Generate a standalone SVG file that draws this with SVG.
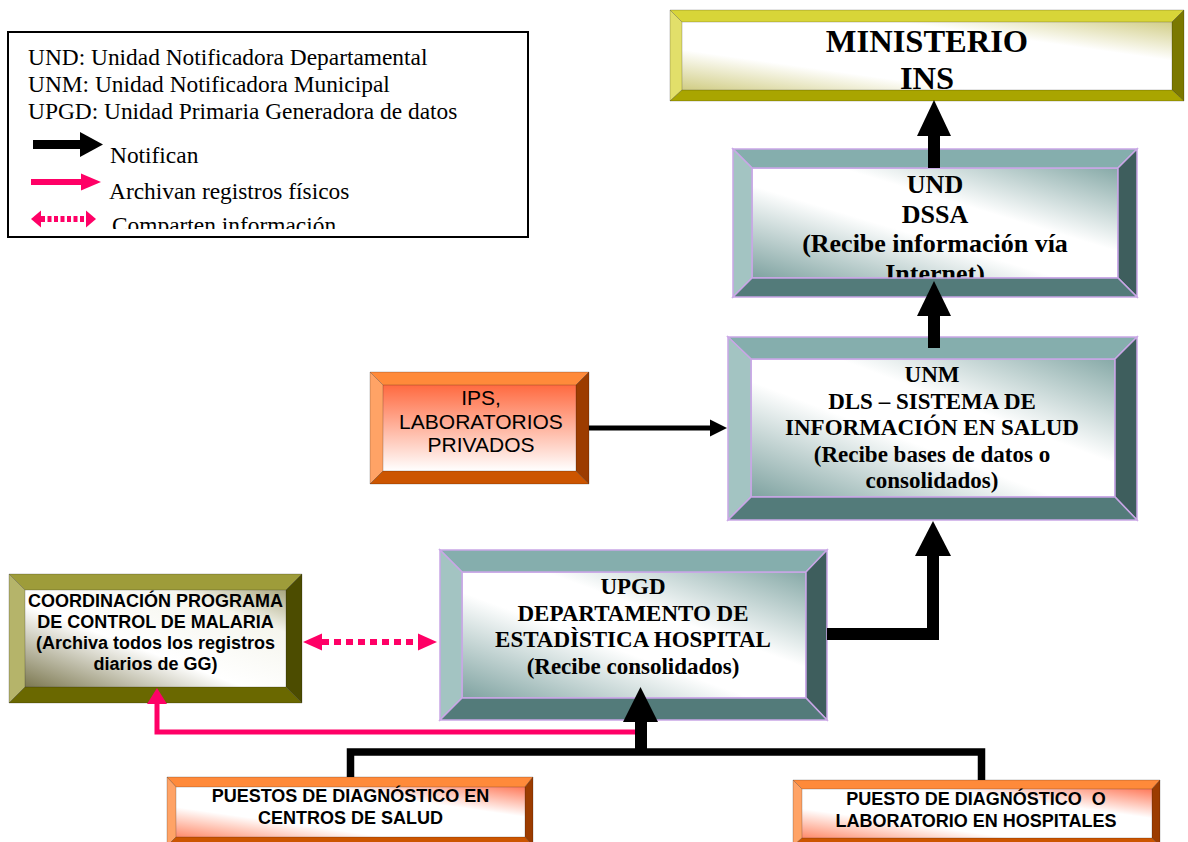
<svg xmlns="http://www.w3.org/2000/svg" width="1188" height="842" viewBox="0 0 1188 842">
<defs>
<style>
.serif{font-family:"Liberation Serif","Times New Roman",serif;}
.sans{font-family:"Liberation Sans",Arial,sans-serif;}
.bold{font-weight:bold;}
.tealT{fill:#85aead}.tealL{fill:#a3c4c2}.tealR{fill:#3e5e5d}.tealB{fill:#537b7a}
.yelT{fill:#d8d538}.yelL{fill:#e2df6a}.yelR{fill:#7b7800}.yelB{fill:#a9a500}
.orT{fill:#ff8a3a}.orL{fill:#ffa366}.orR{fill:#9c3c00}.orB{fill:#cc5500}
.olT{fill:#9e9c3a}.olL{fill:#b5b46a}.olR{fill:#4c4c00}.olB{fill:#6a6800}
.bev polygon{stroke:#000;stroke-width:0.6;stroke-opacity:0.35}
.tealbox polygon,.tealbox rect{stroke:#c9a6e6;stroke-width:1.5}
.blk{fill:#000}
.pink{fill:#ff0066}
.pinkline{fill:none;stroke:#ff0066;stroke-width:5}
.pinkdot{fill:none;stroke:#ff0066;stroke-width:6;stroke-dasharray:7 5}
</style>
<linearGradient id="gTeal" x1="0" y1="1" x2="1" y2="0">
<stop offset="0" stop-color="#7ea2a0"/><stop offset="0.42" stop-color="#ffffff"/><stop offset="0.62" stop-color="#ffffff"/><stop offset="1" stop-color="#86a9a7"/>
</linearGradient>
<linearGradient id="gYel" x1="0" y1="1" x2="1" y2="0">
<stop offset="0" stop-color="#cfcb80"/><stop offset="0.3" stop-color="#ffffff"/><stop offset="0.72" stop-color="#ffffff"/><stop offset="1" stop-color="#d2ce88"/>
</linearGradient>
<linearGradient id="gOrV" x1="0" y1="0" x2="0" y2="1">
<stop offset="0" stop-color="#ff6a40"/><stop offset="1" stop-color="#ffffff"/>
</linearGradient>
<linearGradient id="gOrD" x1="0" y1="1" x2="1" y2="0">
<stop offset="0" stop-color="#ff8a6a"/><stop offset="0.3" stop-color="#ffffff"/><stop offset="0.7" stop-color="#ffffff"/><stop offset="1" stop-color="#ff7a5a"/>
</linearGradient>
<linearGradient id="gOl" x1="0" y1="1" x2="1" y2="0">
<stop offset="0" stop-color="#7c7850"/><stop offset="0.42" stop-color="#ffffff"/><stop offset="0.78" stop-color="#f6f6ee"/><stop offset="1" stop-color="#a8a67e"/>
</linearGradient>
<clipPath id="legClip"><rect x="9" y="33" width="518" height="196"/></clipPath>
</defs>
<rect width="1188" height="842" fill="#ffffff"/>

<g id="legend">
<rect x="8" y="32" width="520" height="205" fill="#fff" stroke="#000" stroke-width="2"/>
<g clip-path="url(#legClip)" class="serif" font-size="23.4" fill="#000">
<text x="28" y="65">UND: Unidad Notificadora Departamental</text>
<text x="28" y="92">UNM: Unidad Notificadora Municipal</text>
<text x="28" y="119">UPGD: Unidad Primaria Generadora de datos</text>
<text x="110" y="163">Notifican</text>
<text x="109" y="199">Archivan registros físicos</text>
<text x="112" y="233">Comparten información</text>
</g>
<rect class="blk" x="33" y="140" width="48" height="9"/>
<polygon class="blk" points="80,132 103,144.5 80,157"/>
<line x1="31" y1="182" x2="83" y2="182" stroke="#ff0066" stroke-width="6"/>
<polygon class="pink" points="81,173.5 101,182 81,190.5"/>
<line x1="41" y1="219" x2="86" y2="219" stroke="#ff0066" stroke-width="6" stroke-dasharray="4 2.5"/>
<polygon class="pink" points="31,219 41,210.5 41,227.5"/>
<polygon class="pink" points="96,219 86,210.5 86,227.5"/>
</g>

<g id="ministerio" class="bev">
<rect x="682" y="22" width="490" height="69" fill="url(#gYel)"/>
<polygon class="yelT" points="670,10 1184,10 1172,22 682,22"/>
<polygon class="yelL" points="670,10 682,22 682,90 670,101"/>
<polygon class="yelR" points="1184,10 1184,101 1172,90 1172,22"/>
<polygon class="yelB" points="670,101 682,90 1172,90 1184,101"/>
<text class="serif bold" font-size="32.5" text-anchor="middle" x="927" y="52">MINISTERIO</text>
<text class="serif bold" font-size="32.5" text-anchor="middle" x="927" y="89">INS</text>
</g>

<g id="und" class="tealbox">
<rect x="752" y="168" width="366" height="110" fill="url(#gTeal)"/>
<text class="serif bold" font-size="26" text-anchor="middle" x="935" y="193" stroke="none">UND</text>
<text class="serif bold" font-size="26" text-anchor="middle" x="935" y="222.5" stroke="none">DSSA</text>
<text class="serif bold" font-size="26" text-anchor="middle" x="935" y="252" stroke="none">(Recibe información vía</text>
<text class="serif bold" font-size="26" text-anchor="middle" x="935" y="281.5" stroke="none">Internet)</text>
<polygon class="tealT" points="733,149 1137,149 1118,168 752,168"/>
<polygon class="tealL" points="733,149 752,168 752,278 733,297"/>
<polygon class="tealR" points="1137,149 1137,297 1118,278 1118,168"/>
<polygon class="tealB" points="733,297 752,278 1118,278 1137,297"/>
</g>

<g id="unm" class="tealbox">
<rect x="751" y="359" width="364" height="138" fill="url(#gTeal)"/>
<polygon class="tealT" points="728,337 1137,337 1115,359 751,359"/>
<polygon class="tealL" points="728,337 751,359 751,497 728,520"/>
<polygon class="tealR" points="1137,337 1137,520 1115,497 1115,359"/>
<polygon class="tealB" points="728,520 751,497 1115,497 1137,520"/>
<g class="serif bold" font-size="23" text-anchor="middle" stroke="none">
<text x="932" y="382">UNM</text>
<text x="932" y="408.5">DLS – SISTEMA DE</text>
<text x="932" y="435">INFORMACIÓN EN SALUD</text>
<text x="932" y="462">(Recibe bases de datos o</text>
<text x="932" y="488">consolidados)</text>
</g>
</g>

<g id="ips" class="bev">
<rect x="383" y="385" width="193" height="86" fill="url(#gOrV)"/>
<polygon class="orT" points="370,372 589,372 576,385 383,385"/>
<polygon class="orL" points="370,372 383,385 383,471 370,484"/>
<polygon class="orR" points="589,372 589,484 576,471 576,385"/>
<polygon class="orB" points="370,484 383,471 576,471 589,484"/>
<g class="sans" font-size="21" text-anchor="middle" stroke="none">
<text x="481" y="405">IPS,</text>
<text x="481" y="428.5">LABORATORIOS</text>
<text x="481" y="452">PRIVADOS</text>
</g>
</g>

<g id="upgd" class="tealbox">
<rect x="462" y="572" width="344" height="126" fill="url(#gTeal)"/>
<polygon class="tealT" points="440,550 827,550 806,572 462,572"/>
<polygon class="tealL" points="440,550 462,572 462,698 440,720"/>
<polygon class="tealR" points="827,550 827,720 806,698 806,572"/>
<polygon class="tealB" points="440,720 462,698 806,698 827,720"/>
<g class="serif bold" font-size="23" text-anchor="middle" stroke="none">
<text x="633" y="593.5">UPGD</text>
<text x="633" y="620.5">DEPARTAMENTO DE</text>
<text x="633" y="647">ESTADÌSTICA HOSPITAL</text>
<text x="633" y="673.5">(Recibe consolidados)</text>
</g>
</g>

<g id="coordinacion" class="bev">
<rect x="25" y="590" width="261" height="97" fill="url(#gOl)"/>
<polygon class="olT" points="9,574 302,574 286,590 25,590"/>
<polygon class="olL" points="9,574 25,590 25,687 9,703"/>
<polygon class="olR" points="302,574 302,703 286,687 286,590"/>
<polygon class="olB" points="9,703 25,687 286,687 302,703"/>
<g class="sans bold" font-size="18" text-anchor="middle" stroke="none">
<text x="155.5" y="606.5">COORDINACIÓN PROGRAMA</text>
<text x="155.5" y="627.5">DE CONTROL DE MALARIA</text>
<text x="155.5" y="648.5">(Archiva todos los registros</text>
<text x="155.5" y="670">diarios de GG)</text>
</g>
</g>

<g id="puestos-centros" class="bev">
<rect x="176" y="787" width="349" height="50" fill="url(#gOrD)"/>
<polygon class="orT" points="167,777 533,777 525,787 176,787"/>
<polygon class="orL" points="167,777 176,787 176,837 167,846"/>
<polygon class="orR" points="533,777 533,846 525,837 525,787"/>
<polygon class="orB" points="167,846 176,837 525,837 533,846"/>
<g class="sans bold" font-size="18" text-anchor="middle" stroke="none">
<text x="350.5" y="802">PUESTOS DE DIAGNÓSTICO EN</text>
<text x="350.5" y="823.5">CENTROS DE SALUD</text>
</g>
</g>

<g id="puesto-hospitales" class="bev">
<rect x="802" y="789" width="350" height="49" fill="url(#gOrD)"/>
<polygon class="orT" points="793,780 1160,780 1152,789 802,789"/>
<polygon class="orL" points="793,780 802,789 802,838 793,846"/>
<polygon class="orR" points="1160,780 1160,846 1152,838 1152,789"/>
<polygon class="orB" points="793,846 802,838 1152,838 1160,846"/>
<g class="sans bold" font-size="18" text-anchor="middle" stroke="none">
<text x="976" y="805" style="white-space:pre">PUESTO DE DIAGNÓSTICO  O</text>
<text x="976" y="826.5">LABORATORIO EN HOSPITALES</text>
</g>
</g>

<g id="connectors">
<rect class="blk" x="928" y="135" width="12" height="33"/>
<polygon class="blk" points="917,136 951,136 934,100"/>
<rect class="blk" x="928" y="315" width="12" height="33"/>
<polygon class="blk" points="917,316 951,316 934,281"/>
<line x1="589" y1="428" x2="712" y2="428" stroke="#000" stroke-width="5"/>
<polygon class="blk" points="710,419.5 727,428 710,436.5"/>
<path d="M827 634 H933 V554" fill="none" stroke="#000" stroke-width="12" stroke-linejoin="miter"/>
<polygon class="blk" points="915,556 951,556 933,521"/>
<line class="pinkdot" x1="322" y1="642" x2="418" y2="642"/>
<polygon class="pink" points="303,642 322,633.5 322,650.5"/>
<polygon class="pink" points="437,642 418,633.5 418,650.5"/>
<path class="pinkline" d="M640 732 H157 V702"/>
<polygon class="pink" points="147,704 167,704 157,688"/>
<path d="M350.5 777 V752 H981.5 V780" fill="none" stroke="#000" stroke-width="7.5" stroke-linejoin="miter"/>
<rect class="blk" x="635" y="720" width="12" height="33"/>
<polygon class="blk" points="623,722 658,722 640.5,687"/>
</g>
</svg>
